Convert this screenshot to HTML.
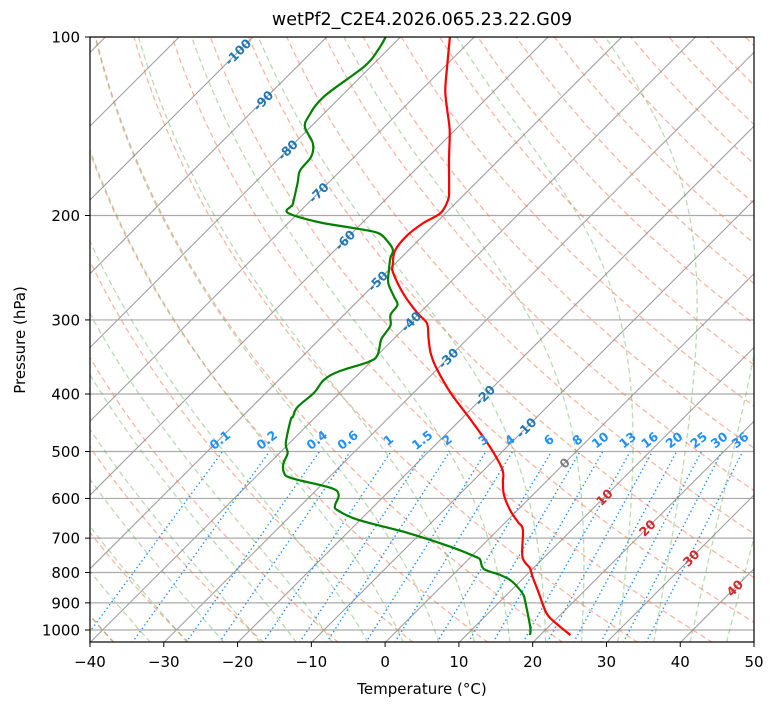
<!DOCTYPE html>
<html><head><meta charset="utf-8"><style>
html,body{margin:0;padding:0;background:#fff;}
svg{display:block;font-family:"DejaVu Sans","Liberation Sans",sans-serif;}
</style></head><body>
<svg id="chart" width="775" height="708" viewBox="0 0 775 708" xmlns="http://www.w3.org/2000/svg">
<defs><clipPath id="clip"><rect x="90" y="37" width="664" height="605"/></clipPath></defs>
<rect x="0" y="0" width="775" height="708" fill="#fff"/>
<text x="422" y="25" text-anchor="middle" font-size="17.5">wetPf2_C2E4.2026.065.23.22.G09</text>
<g id="plot" clip-path="url(#clip)"></g>
<g id="labels"></g>
<rect x="90" y="37" width="664" height="605" fill="none" stroke="#000" stroke-width="1.2"/>
<g id="axes"></g>
<text x="422" y="694" text-anchor="middle" font-size="15">Temperature (°C)</text>
<text transform="translate(25,340) rotate(-90)" text-anchor="middle" font-size="15">Pressure (hPa)</text>
</svg>
<script>
// ---- data ----
const tempP = [1020,954,915,866,814,786,753,678,658,628,592,563,537,493,442,398,360,341,321,304,292,272,250,242,229,216,206,198,188,181,161,144,133,123,111,100];
const tempT = [24.1,19.0,16.7,14.1,11.1,9.5,7.0,3.4,1.7,-1.0,-3.9,-5.8,-7.5,-12.1,-18.6,-25.0,-30.5,-33.1,-35.5,-37.6,-40.3,-44.6,-49.0,-50.2,-51.8,-52.2,-51.7,-50.7,-51.5,-52.7,-56.8,-60.6,-63.7,-66.7,-70.0,-73.3];
const dewP = [1020,992,897,873,846,824,808,789,762,753,724,686,652,628,616,592,576,554,541,523,503,484,442,437,421,398,379,367,353,344,324,316,306,294,283,274,260,247,236,229,222,214,210,205,198,193,191,176,168,159,151,142,136,126,112,105,100];
const dewT = [18.6,17.7,13.5,12.3,10.4,8.5,6.5,3.4,1.7,0.7,-4.1,-11.8,-20.3,-24.4,-25.4,-26.3,-28.3,-35.1,-36.9,-38.1,-38.9,-40.5,-43.0,-43.1,-43.8,-43.5,-43.9,-43.1,-40.3,-40.0,-41.6,-41.9,-42.3,-43.7,-44.1,-45.7,-48.3,-50.0,-51.4,-52.1,-53.8,-56.5,-60.5,-66.2,-71.4,-71.9,-72.0,-74.2,-75.5,-75.9,-77.5,-80.7,-81.7,-82.3,-80.9,-81.3,-82.0];
const isoLabelT = [-100,-90,-80,-70,-60,-50,-40,-30,-20,-10,0,10,20,30,40];
const isoLabelP = [106,128,155,183,220,258,302,348,402,456,523,597,673,756,850];
const mixRatios = [0.1,0.2,0.4,0.6,1,1.5,2,3,4,6,8,10,13,16,20,25,30,36];
const xTicks = [-40,-30,-20,-10,0,10,20,30,40,50];
const pTicks = [100,200,300,400,500,600,700,800,900,1000];

// ---- scales ----
const L=90,R=754,T0=37,B=642.6,PXC=7.378,DEC=593;
function yOf(p){return T0+DEC*Math.log10(p/100);}
function xOf(t,p){return L+(t+40)*PXC+(B-yOf(p));}
const NS="http://www.w3.org/2000/svg";
function mk(tag,attrs,parent){const e=document.createElementNS(NS,tag);for(const k in attrs)e.setAttribute(k,attrs[k]);parent.appendChild(e);return e;}
const plot=document.getElementById('plot'),axes=document.getElementById('axes'),labs=document.getElementById('labels');
function pathFrom(ps,ts){return ps.map((p,i)=>(i?'L':'M')+xOf(ts[i],p).toFixed(2)+','+yOf(p).toFixed(2)).join('');}
function smoothFrom(ps,ts){
  const pts=ps.map((p,i)=>[xOf(ts[i],p),yOf(p)]);
  let d='M'+pts[0][0].toFixed(2)+','+pts[0][1].toFixed(2);
  for(let i=0;i<pts.length-1;i++){
    const p0=pts[Math.max(0,i-1)],p1=pts[i],p2=pts[i+1],p3=pts[Math.min(pts.length-1,i+2)];
    const c1=[p1[0]+(p2[0]-p0[0])/6,p1[1]+(p2[1]-p0[1])/6],c2=[p2[0]-(p3[0]-p1[0])/6,p2[1]-(p3[1]-p1[1])/6];
    d+='C'+c1[0].toFixed(2)+','+c1[1].toFixed(2)+' '+c2[0].toFixed(2)+','+c2[1].toFixed(2)+' '+p2[0].toFixed(2)+','+p2[1].toFixed(2);
  }
  return d;
}

// horizontal grid
pTicks.forEach(p=>{
  const l=mk('line',{x1:L,x2:R,y1:yOf(p),y2:yOf(p),stroke:'#aaaaaa','stroke-width':1.2},plot);
  
  
});
// isotherms
for(let t=-140;t<=50;t+=10){
  const l=mk('line',{x1:xOf(t,1050),y1:yOf(1050),x2:xOf(t,100),y2:yOf(100),stroke:'#a0a0a0','stroke-width':1.1},plot);
  
  
}
// dry adiabats
const pLev=[];for(let p=1050;p>=100;p-=10)pLev.push(p);
for(let th=-50;th<=200;th+=10){
  const ts=pLev.map(p=>(th+273.15)*Math.pow(p/1000,0.2857)-273.15);
  const e=mk('path',{d:pathFrom(pLev,ts),fill:'none',stroke:'rgba(245,110,70,0.5)','stroke-width':1.3,'stroke-dasharray':'5.5 3.5'},plot);
  
  
}
// moist adiabats
function es(tc){return 6.112*Math.exp(17.67*tc/(tc+243.5));}
function dTdp(p,tk){const tc=tk-273.15;const e=es(tc);const rs=0.622*e/(p-e);
  return (287.04*tk+2.501e6*rs)/p/(1005.7+2.501e6*2.501e6*rs*0.622/(287.04*tk*tk));}
function integ(t0,pEnd,step){const ps=[1000],ts=[t0];let p=1000,tk=t0+273.15;
  while((step<0&&p>pEnd)||(step>0&&p<pEnd)){const k1=dTdp(p,tk);const k2=dTdp(p+step/2,tk+k1*step/2);tk+=k2*step;p+=step;ps.push(p);ts.push(tk-273.15);}return [ps,ts];}
for(let t0=-40;t0<=45;t0+=5){
  const up=integ(t0,100,-5),dn=integ(t0,1050,5);
  const ps=dn[0].slice().reverse().concat(up[0].slice(1)),ts=dn[1].slice().reverse().concat(up[1].slice(1));
  const e=mk('path',{d:pathFrom(ps,ts),fill:'none',stroke:'rgba(70,160,60,0.38)','stroke-width':1.3,'stroke-dasharray':'5.5 3.5'},plot);
  
  
}
// mixing ratio lines
function tdOf(w,p){const e=p*w/(622+w);const a=Math.log(e/6.112);return 243.5*a/(17.67-a);}
mixRatios.forEach(w=>{
  const ps=[1050,500];const ts=ps.map(p=>tdOf(w,p));
  const e=mk('path',{d:pathFrom(ps,ts),fill:'none',stroke:'#1e90ff','stroke-width':1.4,'stroke-dasharray':'1.4 2.8'},plot);
  
  
  const x=xOf(ts[1],500),y=yOf(500)-8;
  const tx=mk('text',{x:0,y:0,transform:`translate(${x.toFixed(1)},${y.toFixed(1)}) rotate(-38)`,'text-anchor':'middle','font-size':12.5,'font-weight':'bold',fill:'#1e90ff'},labs);
  tx.textContent=String(w);
  
  
});
// isotherm labels
isoLabelT.forEach((t,i)=>{
  const p=isoLabelP[i];const x=xOf(t,p),y=yOf(p);
  const col=t<0?'#1f77b4':(t===0?'#7f7f7f':'#d62728');
  const tx=mk('text',{x:0,y:0,transform:`translate(${x.toFixed(1)},${y.toFixed(1)}) rotate(-45)`,'text-anchor':'middle','dominant-baseline':'central','font-size':12.5,'font-weight':'bold',fill:col},labs);
  tx.textContent=String(t);
  
  
});
// profiles
const tl=mk('path',{d:smoothFrom(tempP,tempT),fill:'none',stroke:'#ff0000','stroke-width':2.2,'stroke-linejoin':'round'},plot);


const dl=mk('path',{d:smoothFrom(dewP,dewT),fill:'none',stroke:'#008000','stroke-width':2.2,'stroke-linejoin':'round'},plot);


// axes ticks
xTicks.forEach(t=>{
  const x=L+(t+40)*PXC;
  mk('line',{x1:x,x2:x,y1:642,y2:647,stroke:'#000','stroke-width':1},axes);
  const tx=mk('text',{x:x,y:667,'text-anchor':'middle','font-size':15},axes);
  tx.textContent=(t<0?'\u2212'+(-t):String(t));
  
  
});
pTicks.forEach(p=>{
  const y=yOf(p);
  mk('line',{x1:85,x2:90,y1:y,y2:y,stroke:'#000','stroke-width':1},axes);
  const tx=mk('text',{x:80,y:y+5.5,'text-anchor':'end','font-size':15},axes);
  tx.textContent=String(p);
  
  
});
</script>
</body></html>
